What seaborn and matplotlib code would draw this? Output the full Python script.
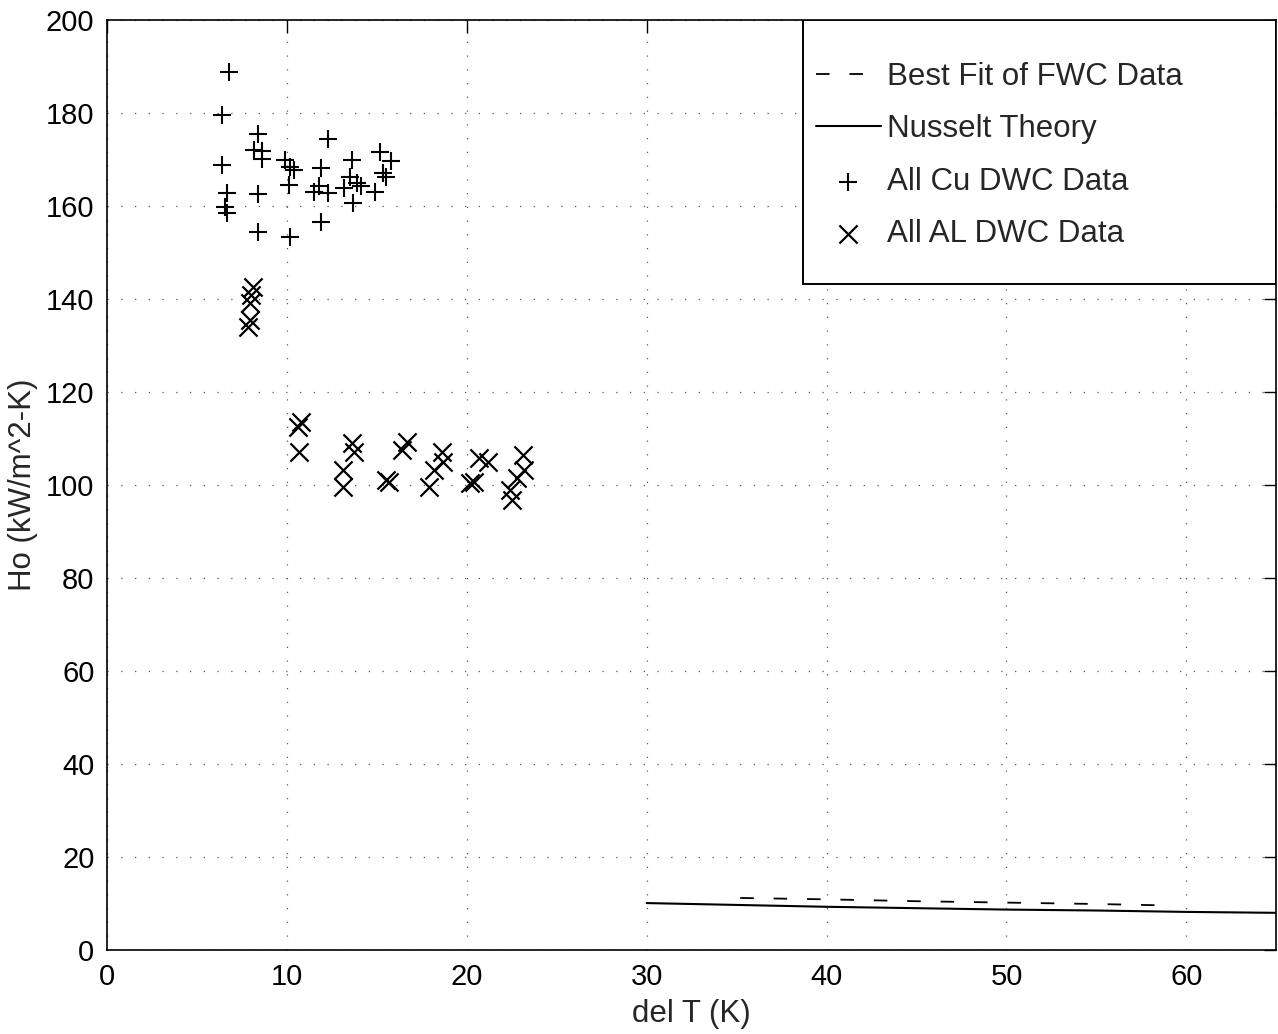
import numpy as np
import pandas as pd
import matplotlib
matplotlib.use('Agg')
import matplotlib.pyplot as plt
from matplotlib.patches import Rectangle
import seaborn as sns

# Cu DWC data (del T in K, Ho in kW/m^2-K)
cu_dT = [6.8, 6.4, 6.4, 6.65, 6.55, 6.65, 8.4, 8.2, 8.6, 8.6, 8.4, 8.4,
         9.9, 10.2, 10.4, 10.1, 10.2, 12.3, 11.9, 11.8, 11.5, 12.3, 11.9,
         13.6, 13.5, 13.9, 14.1, 13.2, 13.7, 15.2, 15.8, 15.35, 15.5, 14.9]
cu_ho = [188.8, 179.6, 168.8, 162.7, 159.8, 158.4, 175.4, 172.0, 171.8, 170.1, 162.6, 154.4,
         169.9, 168.4, 167.7, 164.5, 153.4, 174.5, 168.1, 164.2, 163.1, 162.7, 156.6,
         169.9, 166.3, 164.9, 164.2, 163.8, 160.6, 171.7, 169.6, 167.1, 166.3, 163.1]

# AL DWC data
al_dT = [8.1, 8.0, 7.95, 7.95, 7.85, 10.8, 10.6, 10.7, 13.6, 13.75, 13.1, 13.1,
         15.5, 15.7, 16.4, 16.65, 17.9, 18.2, 18.7, 18.6, 20.2, 20.4, 20.7, 21.2,
         22.4, 22.5, 22.8, 23.2, 23.1]
al_ho = [142.6, 140.9, 139.1, 135.5, 134.0, 113.6, 112.5, 107.0, 109.0, 107.0, 103.2, 99.6,
         101.1, 100.7, 107.5, 109.3, 99.6, 103.2, 105.0, 107.2, 100.4, 100.7, 105.7, 105.0,
         98.9, 96.8, 101.4, 103.2, 106.5]

# Nusselt theory curve
nu_dT = [30, 35, 40, 45, 50, 55, 60, 65]
nu_ho = [10.1, 9.7, 9.3, 9.0, 8.7, 8.5, 8.2, 8.0]

# best fit of FWC data
fit_dT = [35.2, 40, 45, 50, 55, 58.8]
fit_ho = [11.2, 10.9, 10.5, 10.2, 9.9, 9.6]

sns.set_style('white')
plt.rcParams['font.family'] = ['Liberation Sans', 'DejaVu Sans']

fig = plt.figure(figsize=(12.78, 10.34), dpi=100)
ax = fig.add_axes([0.0837, 0.0812, 0.915, 0.8995])

sns.lineplot(x=fit_dT, y=fit_ho, ax=ax, color='black', linestyle=(0, (7.5, 11)),
             linewidth=1.3, label='Best Fit of FWC Data')
sns.lineplot(x=nu_dT, y=nu_ho, ax=ax, color='black', linewidth=1.5,
             label='Nusselt Theory')
sns.scatterplot(x=cu_dT, y=cu_ho, ax=ax, marker='+', color='black', s=170,
                linewidth=1.5, label='All Cu DWC Data')
sns.scatterplot(x=al_dT, y=al_ho, ax=ax, marker='x', color='black', s=170,
                linewidth=1.6, label='All AL DWC Data')

ax.set_xlim(0, 65)
ax.set_ylim(0, 200)
ax.set_xticks(range(0, 61, 10))
ax.set_yticks(range(0, 201, 20))
ax.tick_params(direction='in', length=9, width=1, top=True, right=True,
               labelsize=21, colors='black', pad=9)
ax.grid(True, linestyle=(0, (1, 10)), color='0.35', linewidth=0.9)
for s in ax.spines.values():
    s.set_color('black')
    s.set_linewidth(1.2)

ax.set_xlabel('del T (K)', fontsize=22.5, labelpad=6)
ax.set_ylabel('Ho (kW/m^2-K)', fontsize=22.5, labelpad=6)

# legend box (drawn separately so it can be sized like the original)
box = Rectangle((0.595, 0.716), 0.405, 0.284, transform=ax.transAxes,
                facecolor='white', edgecolor='black', linewidth=1.4, zorder=4)
ax.add_patch(box)
leg = ax.legend(loc='upper left', bbox_to_anchor=(0.606, 0.955), borderaxespad=0,
                fontsize=22.5, frameon=False, handlelength=2.08,
                handletextpad=0.22, labelspacing=0.72, borderpad=0)
leg.set_zorder(5)

fig.savefig('out.png', dpi=100)
